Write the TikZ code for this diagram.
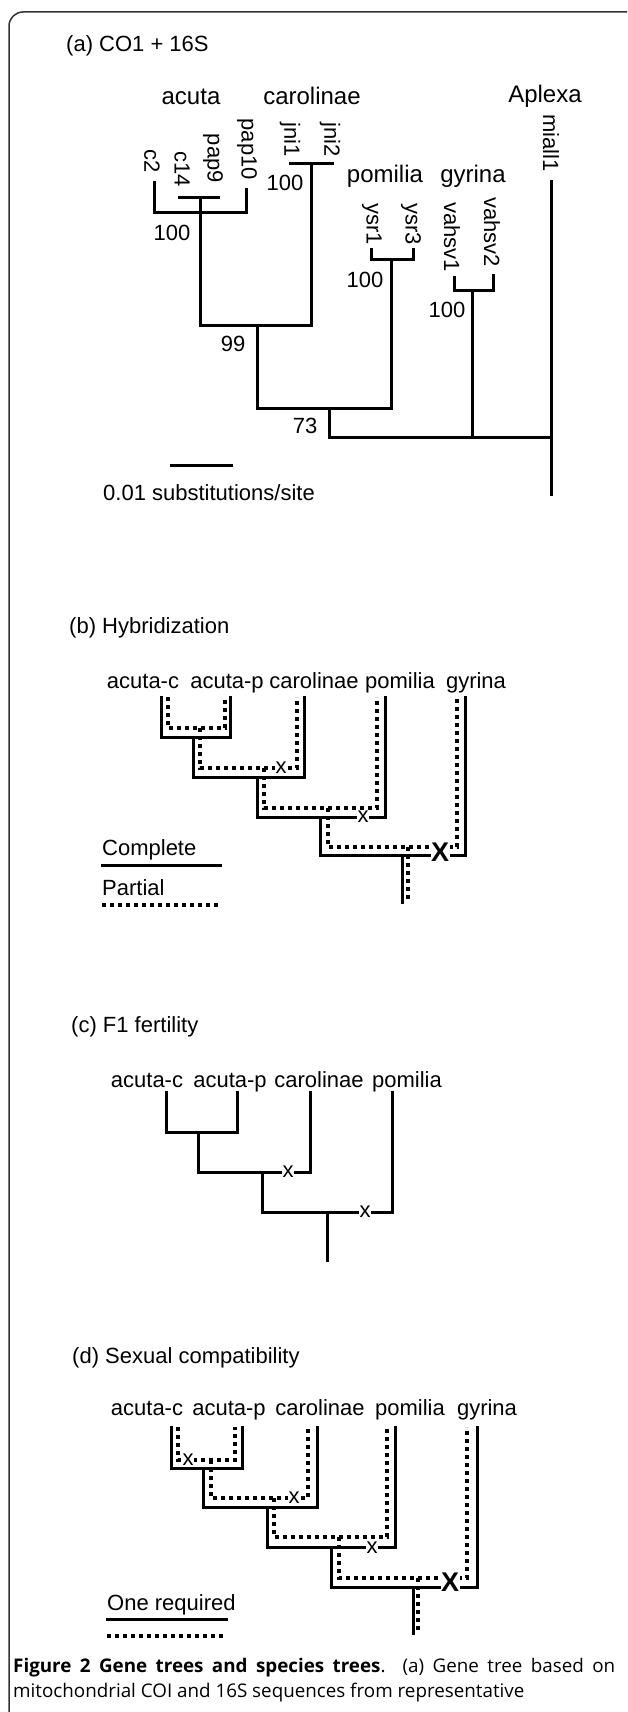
\documentclass[tikz,border=0pt]{standalone}
\usepackage{fontspec}
\setmainfont{Liberation Sans}
\newfontfamily\capfont{Open Sans}
\begin{document}
\begin{tikzpicture}[x=1pt,y=-1pt,line join=miter,
	complete/.style={line width=3pt,line cap=rect},
	partial/.style={line width=3.5pt,dash pattern=on 4pt off 4pt},
	lab/.style={font=\fontsize{22}{26}\selectfont,inner sep=0pt},
	hdr/.style={font=\fontsize{24}{28}\selectfont,inner sep=0pt,anchor=base},
	tip/.style={lab,rotate=-90,anchor=east},
	cross/.style={font=\fontsize{22}{26}\selectfont,inner sep=0.5pt,fill=white},
	bigcross/.style={font=\fontsize{27}{30}\selectfont\bfseries,inner sep=0.5pt,fill=white},
	captext/.style={anchor=base west,inner sep=0pt,font=\capfont\fontsize{18.8}{22}\selectfont}]
	\useasboundingbox (0,0) rectangle (627,1712);
	\draw[line width=1.5pt,black!80,rounded corners=14pt] (9,1712) -- (9,12) -- (627,12);

	% (a) gene tree
	\node[lab,anchor=base west] (ta) at (66,52) {(a) CO1 + 16S};
	\foreach \n/\x/\y/\t in {acuta/191/105/acuta, carol/312/105/carolinae, aplexa/545/103/Aplexa, pomil/385/183/pomilia, gyrin/473/183/gyrina}
		\node[hdr] (\n) at (\x,\y) {\t};
	\foreach \n/\x/\y in {c2/152/173, c14/182/187, pap9/213/183, pap10/247/180, jni1/290/157, jni2/330/157, ysr1/372/245, ysr3/411/245, vahsv1/452/272, vahsv2/492/267, miall1/551/172}
		\node[tip] (l\n) at (\x,\y) {\n};
	\coordinate (c2) at (154,183);
	\coordinate (pap10) at (246,190);
	\coordinate (c14) at (179,198);
	\coordinate (pap9) at (218,198);
	\coordinate (n1) at (200,198);
	\coordinate (nA) at (200,213);
	\coordinate (jni1) at (290,164);
	\coordinate (jni2) at (332,164);
	\coordinate (n2) at (311,164);
	\coordinate (n3) at (257,325);
	\coordinate (ysr1) at (371,250);
	\coordinate (ysr3) at (413,250);
	\coordinate (n4) at (391,260);
	\coordinate (n5) at (329,408);
	\coordinate (vahsv1) at (454,277);
	\coordinate (vahsv2) at (493,275);
	\coordinate (n6) at (472,290);
	\coordinate (nR) at (472,437);
	\coordinate (miall1) at (551,182);
	\coordinate (outg) at (551,494);
	\draw[complete] (c2) -- (c2 |- nA) -- (pap10 |- nA) -- (pap10);
	\draw[complete] (c14) -- (pap9) (n1) -- (n1 |- n3) -- (n3 -| n2) -- (n2);
	\draw[complete] (jni1) -- (jni2);
	\draw[complete] (n3) -- (n3 |- n5) -- (n5 -| n4) -- (n4);
	\draw[complete] (ysr1) |- (n4 -| ysr3) -- (ysr3);
	\draw[complete] (vahsv1) |- (n6 -| vahsv2) -- (vahsv2);
	\draw[complete] (n6) -- (nR);
	\draw[complete] (n5) -- (n5 |- nR) -- (nR -| outg);
	\draw[complete] (miall1) -- (outg);
	\node[lab] (s1) at (172,233) {100};
	\node[lab] (s2) at (285,183) {100};
	\node[lab] (s3) at (233,344) {99};
	\node[lab] (s4) at (365,280) {100};
	\node[lab] (s5) at (447,310) {100};
	\node[lab] (s6) at (305,426) {73};
	\coordinate (sb1) at (171,465);
	\coordinate (sb2) at (231,465);
	\draw[complete] (sb1) -- (sb2);
	\node[lab,anchor=base west] (sbt) at (103,500) {0.01 substitutions/site};

	% (b) hybridization
	\node[lab,anchor=base west] (tb) at (69,633) {(b) Hybridization};
	\foreach \n/\x/\t in {bac/143/acuta-c, bap/227/acuta-p, bcar/314/carolinae, bpom/400/pomilia, bgyr/476/gyrina}
		\node[lab,anchor=base] (\n) at (\x,688) {\t};
	\foreach \n/\x in {bsac/161, bsap/230, bscar/304, bspom/385, bsgyr/465, bpac/168, bpap/225, bpcar/297, bppom/377, bpgyr/457}
		\coordinate (\n) at (\x,697);
	\coordinate (bs1) at (193,737);
	\coordinate (bs2) at (257,777);
	\coordinate (bs3) at (320,817);
	\coordinate (bs4) at (402,855);
	\coordinate (bsr) at (402,902);
	\coordinate (bp1) at (200,728);
	\coordinate (bp2) at (264,768);
	\coordinate (bp3) at (328,808);
	\coordinate (bp4) at (408,847);
	\coordinate (bpr) at (408,902);
	\draw[complete] (bsac) |- (bs1 -| bsap) -- (bsap);
	\draw[complete] (bs1) |- (bs2 -| bscar) -- (bscar);
	\draw[complete] (bs2) |- (bs3 -| bspom) -- (bspom);
	\draw[complete] (bs3) |- (bs4 -| bsgyr) -- (bsgyr);
	\draw[complete] (bs4) -- (bsr);
	\draw[partial] (bpac) |- (bp1 -| bpap) -- (bpap);
	\draw[partial] (bp1) |- (bp2 -| bpcar) -- (bpcar);
	\draw[partial] (bp2) |- (bp3 -| bppom) -- (bppom);
	\draw[partial] (bp3) |- (bp4 -| bpgyr) -- (bpgyr);
	\draw[partial] (bp4) -- (bpr);
	\node[cross] (bx1) at (281,768) {x};
	\node[cross] (bx2) at (363,817) {x};
	\node[bigcross] (bx3) at (440,852) {X};
	\node[lab,anchor=base west] (lcomp) at (102,855) {Complete};
	\coordinate (lc1) at (102,865);
	\coordinate (lc2) at (220,865);
	\draw[complete] (lc1) -- (lc2);
	\node[lab,anchor=base west] (lpart) at (102,895) {Partial};
	\coordinate (lp1) at (102,905);
	\coordinate (lp2) at (220,905);
	\draw[partial] (lp1) -- (lp2);

	% (c) F1 fertility
	\node[lab,anchor=base west] (tc) at (71,1032) {(c) F1 fertility};
	\foreach \n/\x/\t in {cac/147/acuta-c, cap/230/acuta-p, ccar/319/carolinae, cpom/407/pomilia}
		\node[lab,anchor=base] (\n) at (\x,1087) {\t};
	\foreach \n/\x in {csac/166, csap/237, cscar/310, cspom/392}
		\coordinate (\n) at (\x,1092);
	\coordinate (cs1) at (198,1132);
	\coordinate (cs2) at (262,1172);
	\coordinate (cs3) at (327,1212);
	\coordinate (csr) at (327,1260);
	\draw[complete] (csac) |- (cs1 -| csap) -- (csap);
	\draw[complete] (cs1) |- (cs2 -| cscar) -- (cscar);
	\draw[complete] (cs2) |- (cs3 -| cspom) -- (cspom);
	\draw[complete] (cs3) -- (csr);
	\node[cross] (cx1) at (288,1172) {x};
	\node[cross] (cx2) at (365,1212) {x};

	% (d) sexual compatibility
	\node[lab,anchor=base west] (td) at (72,1363) {(d) Sexual compatibility};
	\foreach \n/\x/\t in {dac/147/acuta-c, dap/229/acuta-p, dcar/320/carolinae, dpom/410/pomilia, dgyr/487/gyrina}
		\node[lab,anchor=base] (\n) at (\x,1415) {\t};
	\foreach \n/\x in {dsac/171, dsap/242, dscar/317, dspom/395, dsgyr/477, dpac/178, dpap/235, dpcar/308, dppom/387, dpgyr/467}
		\coordinate (\n) at (\x,1427);
	\coordinate (ds1) at (203,1468);
	\coordinate (ds2) at (267,1507);
	\coordinate (ds3) at (331,1547);
	\coordinate (ds4) at (413,1587);
	\coordinate (dsr) at (413,1633);
	\coordinate (dp1) at (211,1460);
	\coordinate (dp2) at (274,1498);
	\coordinate (dp3) at (339,1537);
	\coordinate (dp4) at (418,1578);
	\coordinate (dpr) at (418,1633);
	\draw[complete] (dsac) |- (ds1 -| dsap) -- (dsap);
	\draw[complete] (ds1) |- (ds2 -| dscar) -- (dscar);
	\draw[complete] (ds2) |- (ds3 -| dspom) -- (dspom);
	\draw[complete] (ds3) |- (ds4 -| dsgyr) -- (dsgyr);
	\draw[complete] (ds4) -- (dsr);
	\draw[partial] (dpac) |- (dp1 -| dpap) -- (dpap);
	\draw[partial] (dp1) |- (dp2 -| dpcar) -- (dpcar);
	\draw[partial] (dp2) |- (dp3 -| dppom) -- (dppom);
	\draw[partial] (dp3) |- (dp4 -| dpgyr) -- (dpgyr);
	\draw[partial] (dp4) -- (dpr);
	\node[cross] (dx1) at (188,1460) {x};
	\node[cross] (dx2) at (294,1498) {x};
	\node[cross] (dx3) at (372,1548) {x};
	\node[bigcross] (dx4) at (450,1582) {X};
	\node[lab,anchor=base west] (lone) at (107,1610) {One required};
	\coordinate (lo1) at (107,1619);
	\coordinate (lo2) at (226,1619);
	\draw[complete] (lo1) -- (lo2);
	\coordinate (lo3) at (107,1636);
	\coordinate (lo4) at (226,1636);
	\draw[partial] (lo3) -- (lo4);

	% caption
	\node[captext] (cap1) at (13,1672)
		{\makebox[602pt][s]{\textbf{Figure 2 Gene trees and species trees}. (a) Gene tree based on}};
	\node[captext] (cap2) at (13,1697) {mitochondrial COI and 16S sequences from representative};
\end{tikzpicture}
\end{document}
